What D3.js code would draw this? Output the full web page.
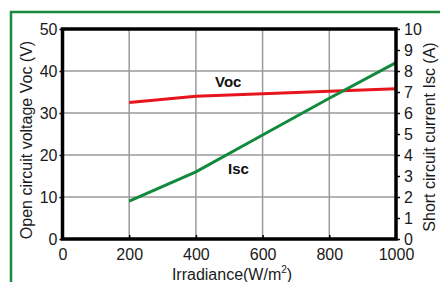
<!DOCTYPE html>
<html><head><meta charset="utf-8">
<script src="https://cdn.jsdelivr.net/npm/d3@7"></script>
<style>body{margin:0;background:#fff}svg{display:block;font-family:"Liberation Sans",Arial,sans-serif}</style>
</head><body>
<script>
const irradiance = [200, 400, 600, 800, 1000];
const vocValues = [32.5, 34.0, 34.6, 35.2, 35.8];
const iscValues = [1.8, 3.2, 4.95, 6.7, 8.4];
const xTicks = [0, 200, 400, 600, 800, 1000];
const leftTicks = [0, 10, 20, 30, 40, 50];
const rightTicks = [0, 1, 2, 3, 4, 5, 6, 7, 8, 9, 10];

const W = 440, H = 282;
const svg = d3.select("body").append("svg").attr("width", W).attr("height", H);

// green frame
svg.append("path").attr("d", "M11,282 L11,12 L440,12")
  .attr("fill", "none").attr("stroke", "#1b8a3e").attr("stroke-width", 2.5);

const x = d3.scaleLinear().domain([0, 1000]).range([62.5, 396]);
const yL = d3.scaleLinear().domain([0, 50]).range([239, 29]);
const yR = d3.scaleLinear().domain([0, 10]).range([239, 29]);

// grid
const g = svg.append("g");
g.selectAll(".vg").data(xTicks.slice(1, -1)).join("line")
  .attr("x1", d => x(d)).attr("x2", d => x(d)).attr("y1", yL(50)).attr("y2", yL(0))
  .attr("stroke", "#9a9a9a").attr("stroke-width", 1.5);
g.selectAll(".hg").data(leftTicks.slice(1, -1)).join("line")
  .attr("y1", d => yL(d)).attr("y2", d => yL(d)).attr("x1", x(0)).attr("x2", x(1000))
  .attr("stroke", "#9a9a9a").attr("stroke-width", 1.5);

// lines
const lineV = d3.line().x((d, i) => x(irradiance[i])).y(d => yL(d));
const lineI = d3.line().x((d, i) => x(irradiance[i])).y(d => yR(d));
svg.append("path").attr("d", lineV(vocValues)).attr("fill", "none")
  .attr("stroke", "#e8141c").attr("stroke-width", 3);
svg.append("path").attr("d", lineI(iscValues)).attr("fill", "none")
  .attr("stroke", "#128a3e").attr("stroke-width", 3);

// frame
svg.append("rect").attr("x", x(0)).attr("y", yL(50)).attr("width", x(1000) - x(0))
  .attr("height", yL(0) - yL(50)).attr("fill", "none").attr("stroke", "#000").attr("stroke-width", 3.5);

// axes
const fs = "16px";
const fmt = d3.format("d");
const ax = svg.append("g").attr("transform", `translate(0,${yL(0)})`)
  .call(d3.axisBottom(x).tickValues(xTicks).tickFormat(fmt).tickSize(-4).tickPadding(10));
const al = svg.append("g").attr("transform", `translate(${x(0)},0)`)
  .call(d3.axisLeft(yL).tickValues(leftTicks).tickFormat(fmt).tickSize(3).tickPadding(2));
const ar = svg.append("g").attr("transform", `translate(${x(1000)},0)`)
  .call(d3.axisRight(yR).tickValues(rightTicks).tickFormat(fmt).tickSize(4).tickPadding(4));
[ax, al, ar].forEach(a => {
  a.select(".domain").remove();
  a.selectAll(".tick line").attr("stroke", "#000").attr("stroke-width", 1.5);
  a.selectAll(".tick text").attr("font-size", fs).attr("fill", "#1a1a1a")
    .attr("font-family", "Liberation Sans, Arial, sans-serif");
});

// titles
svg.append("text").attr("transform", `translate(32,${(yL(0)+yL(50))/2 + 6}) rotate(-90)`)
  .attr("text-anchor", "middle").attr("font-size", fs).attr("fill", "#1a1a1a")
  .text("Open circuit voltage Voc (V)");
svg.append("text").attr("transform", `translate(435,${(yL(0)+yL(50))/2 + 3}) rotate(-90)`)
  .attr("text-anchor", "middle").attr("font-size", fs).attr("fill", "#1a1a1a")
  .text("Short circuit current Isc (A)");
const xt = svg.append("text").attr("x", 232).attr("y", 280)
  .attr("text-anchor", "middle").attr("font-size", fs).attr("fill", "#1a1a1a");
xt.append("tspan").text("Irradiance(W/m");
xt.append("tspan").attr("font-size", "10px").attr("dy", -7).text("2");
xt.append("tspan").attr("dy", 7).text(")");

// series labels
svg.append("text").attr("x", 215).attr("y", 87).attr("font-size", "15px")
  .attr("font-weight", "bold").attr("fill", "#111").text("Voc");
svg.append("text").attr("x", 228).attr("y", 174).attr("font-size", "15px")
  .attr("font-weight", "bold").attr("fill", "#111").text("Isc");
</script>
</body></html>
